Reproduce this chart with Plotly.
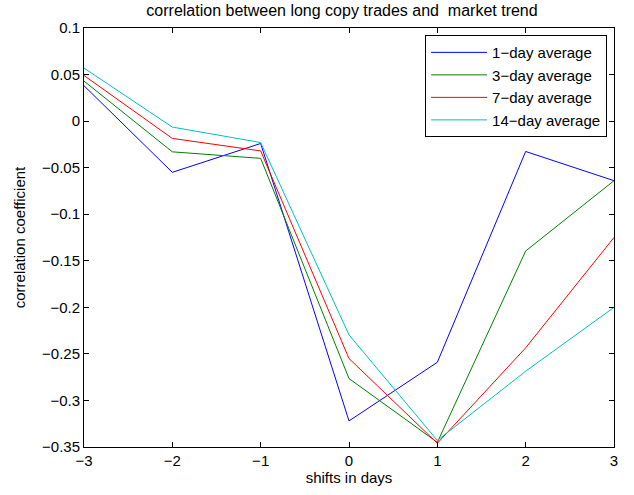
import plotly.graph_objects as go

shifts = [-3, -2, -1, 0, 1, 2, 3]
avg_1 = [0.038, -0.055, -0.024, -0.322, -0.259, -0.0326, -0.064]
avg_3 = [0.043, -0.033, -0.040, -0.2765, -0.345, -0.1395, -0.064]
avg_7 = [0.049, -0.0186, -0.032, -0.255, -0.346, -0.2435, -0.125]
avg_14 = [0.057, -0.0064, -0.023, -0.2296, -0.343, -0.2686, -0.200]

series_names = ["1\u2212day average", "3\u2212day average", "7\u2212day average", "14\u2212day average"]
series_colors = ["#0000ff", "#008000", "#ff0000", "#00bfbf"]
series_values = [avg_1, avg_3, avg_7, avg_14]

x_ticks = [-3, -2, -1, 0, 1, 2, 3]
x_ticktext = ["\u22123", "\u22122", "\u22121", "0", "1", "2", "3"]
y_ticks = [0.1, 0.05, 0, -0.05, -0.1, -0.15, -0.2, -0.25, -0.3, -0.35]
y_ticktext = ["0.1", "0.05", "0", "\u22120.05", "\u22120.1", "\u22120.15", "\u22120.2", "\u22120.25", "\u22120.3", "\u22120.35"]

fig = go.Figure()
for name, color, vals in zip(series_names, series_colors, series_values):
    fig.add_trace(go.Scatter(x=shifts, y=vals, mode="lines", name=name,
                             line=dict(color=color, width=1)))

font_family = "Liberation Sans, Arial, sans-serif"
fig.update_layout(
    width=634, height=495,
    paper_bgcolor="white", plot_bgcolor="white",
    margin=dict(l=84, r=20, t=28, b=48),
    font=dict(family=font_family, size=15, color="black"),
    title=dict(text="correlation between long copy trades and  market trend",
               x=342 / 634, xanchor="center", y=1 - 10 / 495, yanchor="middle",
               font=dict(size=16, family=font_family)),
    showlegend=True,
    legend=dict(x=0.987, xanchor="right", y=0.983, yanchor="top",
                bordercolor="black", borderwidth=1, bgcolor="white",
                font=dict(size=15, family=font_family),
                tracegroupgap=0, itemwidth=56),
    xaxis=dict(range=[-3, 3], tickvals=x_ticks, ticktext=x_ticktext,
               showgrid=False, zeroline=False, showline=True, linecolor="black",
               linewidth=1, mirror="ticks", ticks="inside", ticklen=5,
               tickcolor="black",
               title=dict(text="shifts in days", standoff=3, font=dict(size=15))),
    yaxis=dict(range=[-0.35, 0.1], tickvals=y_ticks, ticktext=y_ticktext,
               showgrid=False, zeroline=False, showline=True, linecolor="black",
               linewidth=1, mirror="ticks", ticks="inside", ticklen=5,
               tickcolor="black",
               title=dict(text="correlation coefficient", standoff=12, font=dict(size=15))),
)

fig.write_html("out.html", config={"displayModeBar": False},
               post_script="document.body.style.margin='0';")
